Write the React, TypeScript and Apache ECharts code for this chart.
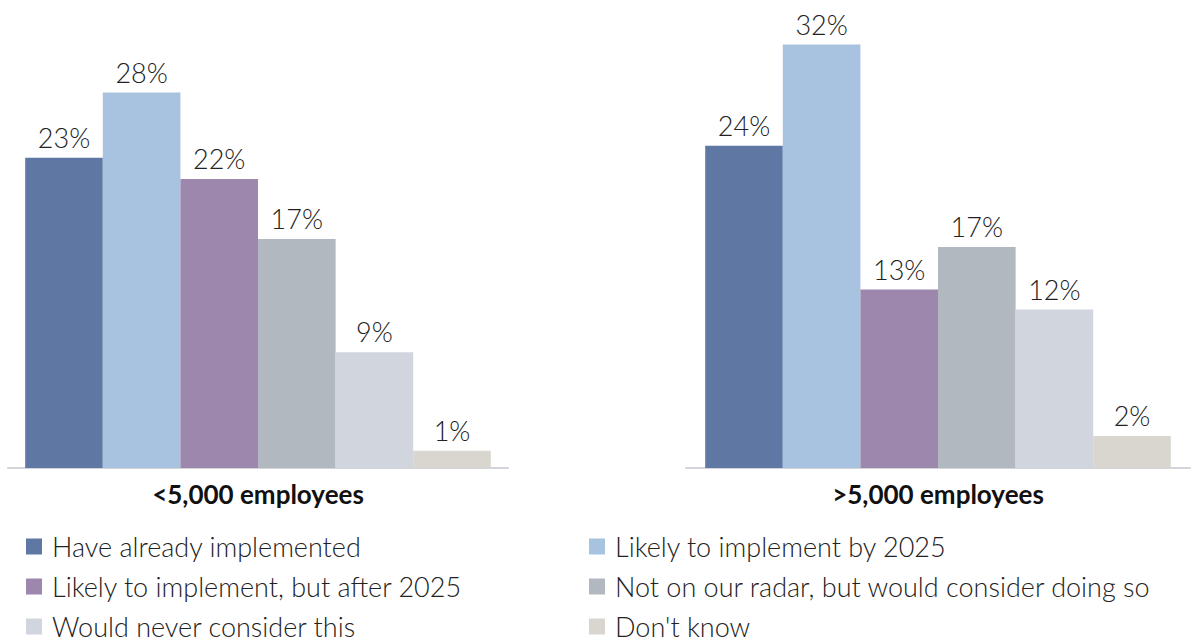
import React, { useEffect, useRef } from "react";
import * as echarts from "echarts";

const groups = ["<5,000 employees", ">5,000 employees"];
const seriesNames = [
  "Have already implemented",
  "Likely to implement by 2025",
  "Likely to implement, but after 2025",
  "Not on our radar, but would consider doing so",
  "Would never consider this",
  "Don't know",
];
const colors = ["#5f77a3", "#a8c3e0", "#9d87ad", "#b1b8c0", "#d1d5de", "#d9d6d0"];
const smallCompanies = [23.3, 28.2, 21.7, 17.2, 8.7, 1.3];
const largeCompanies = [24.2, 31.8, 13.4, 16.6, 11.9, 2.4];

const FONT = "Lato";

export default function App() {
  const ref = useRef<HTMLDivElement>(null);
  useEffect(() => {
    if (!ref.current) return;
    const chart = echarts.init(ref.current, null, { renderer: "svg" });
    const grids = [
      { left: 8, width: 500, top: 2, height: 466 },
      { left: 686, width: 504, top: 2, height: 466 },
    ];
    const xAxis = groups.map((g, i) => ({
      type: "category",
      gridIndex: i,
      data: [g],
      axisTick: { show: false },
      axisLine: { lineStyle: { color: "#d3d5dd", width: 2 } },
      axisLabel: {
        margin: 13,
        fontFamily: FONT,
        fontSize: 26,
        fontWeight: "bold",
        color: "#111",
      },
    }));
    const yAxis = groups.map((_, i) => ({
      type: "value",
      gridIndex: i,
      min: 0,
      max: 35,
      show: false,
      splitLine: { show: false },
    }));
    const series: any[] = [];
    [smallCompanies, largeCompanies].forEach((vals, gi) => {
      seriesNames.forEach((name, si) => {
        series.push({
          type: "bar",
          name,
          xAxisIndex: gi,
          yAxisIndex: gi,
          data: [vals[si]],
          barWidth: 77.6,
          barGap: "0%",
          itemStyle: { color: colors[si] },
          label: {
            show: true,
            position: "top",
            distance: 7,
            formatter: (p: any) => Math.round(p.value) + "%",
            fontFamily: FONT,
            fontSize: 27,
            fontWeight: 300,
            color: "#222",
          },
        });
      });
    });
    const legendCommon = {
      orient: "vertical",
      icon: "rect",
      itemWidth: 16,
      itemHeight: 16,
      itemGap: 13,
      textStyle: {
        fontFamily: FONT,
        fontSize: 27,
        fontWeight: 300,
        color: "#222",
        lineHeight: 27,
        padding: [0, 0, 0, 5],
      },
      padding: 0,
    };
    chart.setOption({
      animation: false,
      grid: grids,
      xAxis,
      yAxis,
      series,
      legend: [
        {
          ...legendCommon,
          left: 26,
          top: 533,
          data: [seriesNames[0], seriesNames[2], seriesNames[4]],
        },
        {
          ...legendCommon,
          left: 589,
          top: 533,
          data: [seriesNames[1], seriesNames[3], seriesNames[5]],
        },
      ],
    });
    return () => chart.dispose();
  }, []);
  return <div ref={ref} style={{ width: 1194, height: 642, position: "absolute", left: 0, top: 0 }} />;
}
